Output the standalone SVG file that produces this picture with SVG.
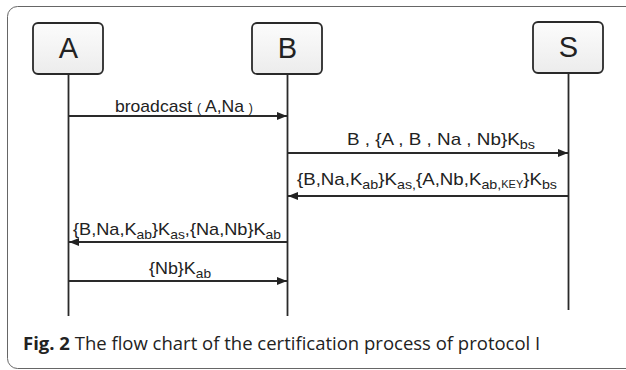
<svg xmlns="http://www.w3.org/2000/svg" width="626" height="370" viewBox="0 0 626 370">
<defs>
<linearGradient id="g" x1="0" y1="0" x2="0" y2="1"><stop offset="0" stop-color="#fcfcfc"/><stop offset="1" stop-color="#ececec"/></linearGradient>
<marker id="ah" viewBox="0 0 10 10" refX="10" refY="5" markerWidth="10" markerHeight="10" markerUnits="userSpaceOnUse" orient="auto"><path d="M0,1 L10,5 L0,9 Z" fill="#222"/></marker>
<style>
.box{fill:url(#g);stroke:#2a2a2a;stroke-width:1.8}
.nl{font-family:"Liberation Sans",Arial,sans-serif;font-size:29px;fill:#222;text-anchor:middle}
.life{stroke:#2a2a2a;stroke-width:1.8;fill:none}
.msg{stroke:#2a2a2a;stroke-width:1.8;fill:none;marker-end:url(#ah)}
.lb{font-family:"Liberation Sans",Arial,sans-serif;font-size:17px;fill:#222}
.sub{font-size:13px}
.sm{font-size:10px}
.cap{font-family:"Open Sans","Noto Sans",sans-serif;font-size:18.5px;fill:#222}
</style>
</defs>
<rect x="7.5" y="6.5" width="660" height="362" rx="10" fill="none" stroke="#666" stroke-width="1"/>
<g id="node-A"><rect class="box" x="33" y="23" width="70" height="51" rx="5"/><text class="nl" x="68.5" y="58">A</text></g>
<g id="node-B"><rect class="box" x="252" y="23" width="70" height="51" rx="5"/><text class="nl" x="287.5" y="58">B</text></g>
<g id="node-S"><rect class="box" x="533" y="22" width="70" height="51" rx="5"/><text class="nl" x="568.5" y="57">S</text></g>
<g id="connectors">
<line class="life" x1="68.5" y1="74" x2="68.5" y2="316"/>
<line class="life" x1="287.5" y1="74" x2="287.5" y2="316"/>
<line class="life" x1="568.5" y1="73" x2="568.5" y2="310"/>
<line class="msg" x1="68.5" y1="116" x2="287" y2="116"/>
<line class="msg" x1="287.5" y1="153" x2="568" y2="153"/>
<line class="msg" x1="568.5" y1="196" x2="288" y2="196"/>
<line class="msg" x1="287.5" y1="242" x2="69" y2="242"/>
<line class="msg" x1="68.5" y1="281" x2="287" y2="281"/>
</g>
<g id="labels">
<text class="lb" x="115" y="112" textLength="138" lengthAdjust="spacingAndGlyphs" xml:space="preserve">broadcast <tspan font-size="12px">(</tspan> A,Na <tspan font-size="12px">)</tspan></text>
<text class="lb" x="347" y="145" textLength="188" lengthAdjust="spacingAndGlyphs">B , {A , B , Na , Nb}K<tspan class="sub" dy="4">bs</tspan></text>
<text class="lb" x="297" y="185" textLength="260" lengthAdjust="spacingAndGlyphs">{B,Na,K<tspan class="sub" dy="4">ab</tspan><tspan dy="-4">}K</tspan><tspan class="sub" dy="4">as,</tspan><tspan dy="-4">{A,Nb,K</tspan><tspan class="sub" dy="4">ab,</tspan><tspan class="sm" dy="-1">KEY</tspan><tspan dy="-3">}K</tspan><tspan class="sub" dy="4">bs</tspan></text>
<text class="lb" x="73" y="235" textLength="208" lengthAdjust="spacingAndGlyphs">{B,Na,K<tspan class="sub" dy="4">ab</tspan><tspan dy="-4">}K</tspan><tspan class="sub" dy="4">as</tspan><tspan dy="-4">,{Na,Nb}K</tspan><tspan class="sub" dy="4">ab</tspan></text>
<text class="lb" x="149" y="274" textLength="62" lengthAdjust="spacingAndGlyphs">{Nb}K<tspan class="sub" dy="4">ab</tspan></text>
</g>
<text class="cap" x="23" y="350"><tspan font-weight="bold">Fig. 2</tspan> The flow chart of the certification process of protocol I</text>
</svg>
